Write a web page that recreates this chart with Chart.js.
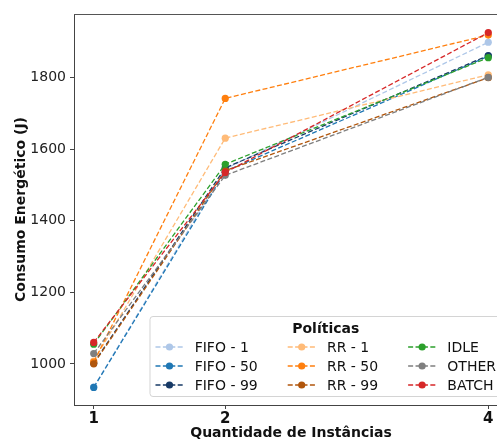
<!DOCTYPE html>
<html>
<head>
<meta charset="utf-8">
<script src="https://cdn.jsdelivr.net/npm/chart.js@4.4.0/dist/chart.umd.min.js"></script>
<style>
html, body { margin: 0; padding: 0; background: #fff; overflow: hidden; }
#wrap { width: 497px; height: 440px; overflow: hidden; position: relative; }
</style>
</head>
<body>
<div id="wrap"><canvas id="myChart" width="520" height="448"></canvas></div>
<script>
// quantidade de instancias (eixo x)
const instancias = [1, 2, 4];
const yTicks = [1000, 1200, 1400, 1600, 1800];

// consumo energetico (J) por politica
const politicas = ['FIFO - 1', 'FIFO - 50', 'FIFO - 99', 'RR - 1', 'RR - 50', 'RR - 99', 'IDLE', 'OTHER', 'BATCH'];
const fifo1  = [935, 1545, 1899];
const fifo50 = [934, 1538, 1860];
const fifo99 = [1002, 1548, 1862];
const rr1    = [1008, 1631, 1808];
const rr50   = [1005, 1742, 1919];
const rr99   = [1000, 1540, 1800];
const idle   = [1055, 1558, 1856];
const other  = [1029, 1527, 1801];
const batch  = [1060, 1535, 1926];

const series = [fifo1, fifo50, fifo99, rr1, rr50, rr99, idle, other, batch];
const cores = ['#aec7e8', '#1f77b4', '#173a66', '#ffbb78', '#ff7f0e', '#b1560c', '#2ca02c', '#7f7f7f', '#d62728'];

const FONT = '"DejaVu Sans", sans-serif';

const datasets = [];
for (let i = 0; i < series.length; i++) {
    datasets.push({
        label: politicas[i],
        data: series[i].map((v, j) => ({x: instancias[j], y: v})),
        borderColor: cores[i],
        backgroundColor: cores[i],
        pointBackgroundColor: cores[i],
        pointBorderWidth: 0,
        pointRadius: 3.6,
        borderWidth: 1.3,
        borderDash: [5, 2.4],
        tension: 0,
        order: series.length - i   // later series drawn on top, like matplotlib
    });
}

// moldura superior (estilo matplotlib)
const frame = {
    id: 'frame',
    afterDraw(chart) {
        const {ctx, chartArea} = chart;
        ctx.save();
        ctx.strokeStyle = '#555';
        ctx.lineWidth = 1;
        ctx.beginPath();
        ctx.moveTo(chartArea.left, chartArea.top + 0.5);
        ctx.lineTo(chartArea.right, chartArea.top + 0.5);
        ctx.moveTo(chartArea.right - 0.5, chartArea.top);
        ctx.lineTo(chartArea.right - 0.5, chartArea.bottom);
        ctx.stroke();
        ctx.restore();
    }
};

// legenda em 3 colunas dentro do grafico, canto inferior direito
const legendaPoliticas = {
    id: 'legendaPoliticas',
    afterDraw(chart) {
        const {ctx, chartArea} = chart;
        const ds = politicas.map((p, i) => ({label: p, color: cores[i]}));
        const handle = 28, textPad = 11.2, colSp = 30, border = 6;
        ctx.save();
        ctx.font = '14px ' + FONT;
        let colW = [];
        for (let c = 0; c < 3; c++) {
            let w = 0;
            for (let r = 0; r < 3; r++) w = Math.max(w, ctx.measureText(ds[c * 3 + r].label).width);
            colW.push(w);
        }
        let inner = 0;
        for (let c = 0; c < 3; c++) inner += handle + textPad + colW[c];
        inner += colSp * 2;
        const right = chartArea.right - 6;
        const bottom = chartArea.bottom - 9;
        const left = right - inner - border * 2;
        const top = bottom - 80;

        ctx.fillStyle = 'rgba(255,255,255,0.8)';
        ctx.strokeStyle = '#d4d4d4';
        ctx.lineWidth = 1;
        ctx.beginPath();
        ctx.roundRect(left + 0.5, top + 0.5, right - left, bottom - top, 3);
        ctx.fill();
        ctx.stroke();

        ctx.fillStyle = '#111';
        ctx.font = 'bold 14px ' + FONT;
        ctx.textAlign = 'center';
        ctx.textBaseline = 'middle';
        ctx.fillText('Políticas', (left + right) / 2, bottom - 67);

        ctx.font = '14px ' + FONT;
        ctx.textAlign = 'left';
        const rowsY = [bottom - 49, bottom - 30, bottom - 11];
        let x0 = left + border;
        for (let c = 0; c < 3; c++) {
            for (let r = 0; r < 3; r++) {
                const d = ds[c * 3 + r];
                const y = rowsY[r];
                ctx.strokeStyle = d.color;
                ctx.lineWidth = 1.3;
                ctx.setLineDash([5, 2.4]);
                ctx.beginPath();
                ctx.moveTo(x0, y);
                ctx.lineTo(x0 + handle, y);
                ctx.stroke();
                ctx.setLineDash([]);
                ctx.fillStyle = d.color;
                ctx.beginPath();
                ctx.arc(x0 + handle / 2, y, 3.6, 0, Math.PI * 2);
                ctx.fill();
                ctx.fillStyle = '#111';
                ctx.fillText(d.label, x0 + handle + textPad, y + 1);
            }
            x0 += handle + textPad + colW[c] + colSp;
        }
        ctx.restore();
    }
};

const config = {
    type: 'line',
    data: {datasets: datasets},
    options: {
        responsive: false,
        animation: false,
        layout: {padding: {top: 14, right: 12, left: 0, bottom: 0}},
        plugins: {legend: {display: false}, tooltip: {enabled: false}},
        scales: {
            x: {
                type: 'linear',
                min: 0.85,
                max: 4.15,
                afterBuildTicks: s => { s.ticks = instancias.map(v => ({value: v})); },
                afterFit: s => { s.height = 43; },
                grid: {drawOnChartArea: false, tickLength: 4, color: '#444'},
                border: {color: '#444', width: 1},
                ticks: {color: '#111', padding: 1, font: {family: FONT, size: 15, weight: 'bold'},
                        callback: v => String(v)},
                title: {display: true, text: 'Quantidade de Instâncias', color: '#111',
                        font: {family: FONT, size: 14, weight: 'bold'}, padding: {top: 0, bottom: 6}}
            },
            y: {
                min: 885,
                max: 1978,
                afterBuildTicks: s => { s.ticks = yTicks.map(v => ({value: v})); },
                afterFit: s => { s.width = 74; },
                grid: {drawOnChartArea: false, tickLength: 4, color: '#444'},
                border: {color: '#444', width: 1},
                ticks: {color: '#222', padding: 4, font: {family: FONT, size: 14},
                        callback: v => String(v)},
                title: {display: true, text: 'Consumo Energético (J)', color: '#111',
                        font: {family: FONT, size: 14, weight: 'bold'}, padding: {top: 13, bottom: 0}}
            }
        }
    },
    plugins: [frame, legendaPoliticas]
};

const myChart = new Chart(document.getElementById('myChart'), config);
</script>
</body>
</html>
